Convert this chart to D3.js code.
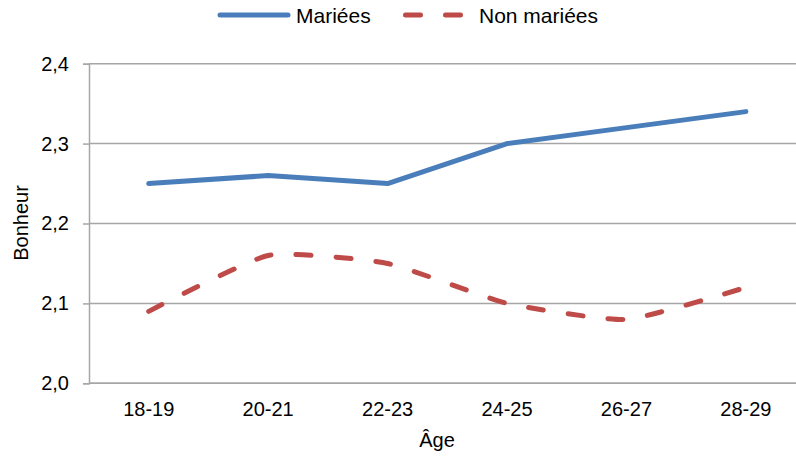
<!DOCTYPE html>
<html>
<head>
<meta charset="utf-8">
<script src="https://cdn.jsdelivr.net/npm/d3@7"></script>
<style>
  html, body { margin: 0; padding: 0; background: #fff; }
  svg { display: block; font-family: "Liberation Sans", Arial, sans-serif; }
</style>
</head>
<body>
<svg id="chart" width="796" height="457"></svg>
<script>
const categories = ["18-19", "20-21", "22-23", "24-25", "26-27", "28-29"];
const mariees = [2.25, 2.26, 2.25, 2.30, 2.32, 2.34];
const nonMariees = [2.09, 2.16, 2.15, 2.10, 2.08, 2.12];
const yTicks = [2.0, 2.1, 2.2, 2.3, 2.4];
const seriesNames = ["Mariées", "Non mariées"];
const xTitle = "Âge";
const yTitle = "Bonheur";

(function () {
const svg = d3.select("#chart");
const W = 796, H = 457;
const pLeft = 89, pRight = 805.6, pTop = 63.7, pBottom = 383.3;
const blue = "#4a7ebb", red = "#be4b48", grid = "#a6a6a6";

const x = d3.scaleBand().domain(categories).range([pLeft, pRight]).paddingInner(0).paddingOuter(0);
const y = d3.scaleLinear().domain([2.0, 2.4]).range([pBottom, pTop]);
const cx = c => x(c) + x.bandwidth() / 2;

// gridlines
svg.append("g").selectAll("line").data(yTicks).join("line")
  .attr("x1", pLeft).attr("x2", W)
  .attr("y1", d => y(d)).attr("y2", d => y(d))
  .attr("stroke", grid).attr("stroke-width", 1.5);

// left axis
const yAxis = d3.axisLeft(y).tickValues(yTicks).tickSize(6).tickPadding(14)
  .tickFormat(d => d.toFixed(1).replace(".", ","));
const gy = svg.append("g").attr("transform", `translate(${pLeft},0)`).call(yAxis);
gy.select(".domain").attr("stroke", grid).attr("stroke-width", 1.5);
gy.selectAll(".tick line").attr("stroke", grid).attr("stroke-width", 1.5);
gy.selectAll(".tick text").attr("font-size", 20).attr("fill", "#000")
  .attr("font-family", "Liberation Sans, Arial, sans-serif");

// bottom axis
const xAxis = d3.axisBottom(x).tickSize(0).tickPadding(19);
const gx = svg.append("g").attr("transform", `translate(0,${pBottom})`).call(xAxis);
gx.select(".domain").remove();
gx.selectAll(".tick text").attr("font-size", 20).attr("fill", "#000")
  .attr("font-family", "Liberation Sans, Arial, sans-serif");
svg.append("line").attr("x1", pLeft).attr("x2", W).attr("y1", pBottom).attr("y2", pBottom)
  .attr("stroke", grid).attr("stroke-width", 1.5);

// lines
const lineStraight = d3.line().x((d, i) => cx(categories[i])).y(d => y(d));
const lineSmooth = d3.line().x((d, i) => cx(categories[i])).y(d => y(d)).curve(d3.curveCardinal.tension(0.5));

svg.append("path").datum(mariees).attr("d", lineStraight)
  .attr("fill", "none").attr("stroke", blue).attr("stroke-width", 5)
  .attr("stroke-linecap", "round").attr("stroke-linejoin", "round");

svg.append("path").datum(nonMariees).attr("d", lineSmooth)
  .attr("fill", "none").attr("stroke", red).attr("stroke-width", 5)
  .attr("stroke-linecap", "round").attr("stroke-dasharray", "15,25");

// axis titles
svg.append("text").attr("x", 437).attr("y", 447).attr("text-anchor", "middle")
  .attr("font-size", 20).attr("fill", "#000").text(xTitle);
svg.append("text").attr("transform", "translate(28,223) rotate(-90)").attr("text-anchor", "middle")
  .attr("font-size", 20).attr("fill", "#000").text(yTitle);

// legend
const lg = svg.append("g");
lg.append("line").attr("x1", 220).attr("x2", 288).attr("y1", 15).attr("y2", 15)
  .attr("stroke", blue).attr("stroke-width", 5).attr("stroke-linecap", "round");
lg.append("text").attr("x", 296).attr("y", 22.5).attr("font-size", 21).attr("fill", "#000").text(seriesNames[0]);
lg.append("line").attr("x1", 405.5).attr("x2", 466).attr("y1", 15).attr("y2", 15)
  .attr("stroke", red).attr("stroke-width", 5).attr("stroke-linecap", "round")
  .attr("stroke-dasharray", "15,25");
lg.append("text").attr("x", 479).attr("y", 22.5).attr("font-size", 21).attr("fill", "#000").text(seriesNames[1]);
})();
</script>
</body>
</html>
